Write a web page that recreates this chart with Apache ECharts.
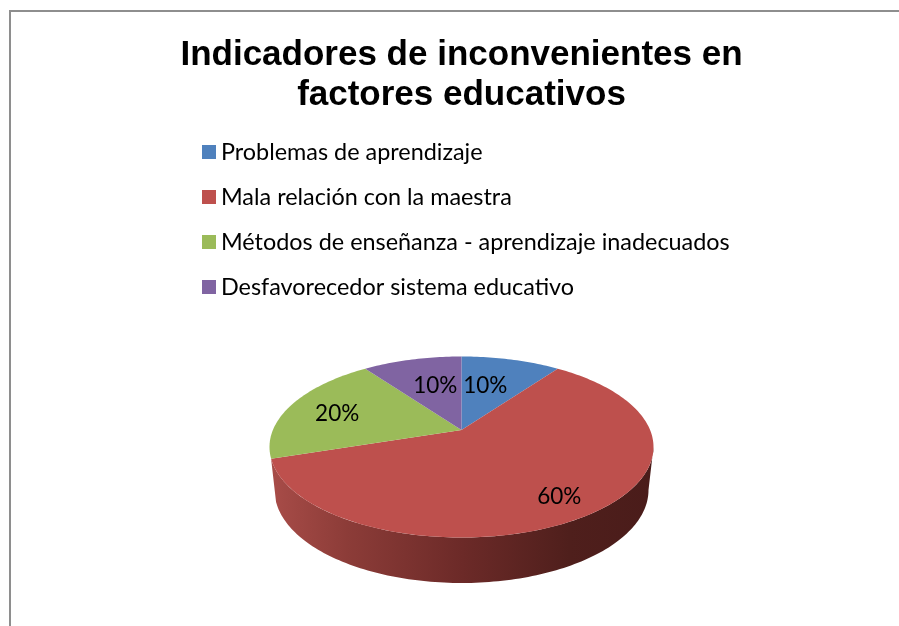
<!DOCTYPE html>
<html>
<head>
<meta charset="utf-8">
<style>html,body{margin:0;padding:0;background:#fff}#c{width:899px;height:626px}</style>
<script src="https://cdn.jsdelivr.net/npm/echarts@6/dist/echarts.min.js"></script>
</head>
<body>
<div id="c"></div>
<script>
const titleText = 'Indicadores de inconvenientes en\nfactores educativos';
const categories = ['Problemas de aprendizaje', 'Mala relación con la maestra', 'Métodos de enseñanza - aprendizaje inadecuados', 'Desfavorecedor sistema educativo'];
const values = [10, 60, 20, 10];
const colors = ['#4F81BD', '#BE504D', '#9BBB59', '#8064A2'];

// Layout of the tilted pie (perspective disc)
const TOP = { cx: 461.5, cy: 447, rx: 192, ry: 90.5 };
const BOTTOM = { cx: 461.5, cy: 490, rx: 187, ry: 93 };
const K = 0.188;                 // apparent shift of the pie centre towards the back
const labelR = [0.575, 0.81, 0.71, 0.575];
const labelShift = [-4, 2, -2.2, 2.5];
const LABEL_FONT = '22.5px Lato, "Open Sans", sans-serif';

const total = values.reduce((a, b) => a + b, 0);
const shares = values.map(v => v / total);
const starts = shares.map((_, i) => shares.slice(0, i).reduce((a, b) => a + b, 0) * 2 * Math.PI);
const biggest = values.indexOf(Math.max(...values));

function project(e, ang, r) {
  const x = r * Math.sin(ang), y = r * Math.cos(ang);
  const d = 1 + K * y;
  return [e.cx + e.rx * x * Math.sqrt(1 - K * K) / d, e.cy - e.ry * (y + K) / d];
}
function rim(e, a0, a1) {
  const n = Math.max(2, Math.ceil((a1 - a0) / 0.02)), pts = [];
  for (let i = 0; i <= n; i++) pts.push(project(e, a0 + (a1 - a0) * i / n, 1));
  return pts;
}
const wallFill = new echarts.graphic.LinearGradient(0, 0, 1, 0, [
  { offset: 0, color: '#A84C48' },
  { offset: 0.2, color: '#8C3C38' },
  { offset: 0.5, color: '#6C2A28' },
  { offset: 0.78, color: '#4F1F1C' },
  { offset: 1, color: '#4A1C1A' }
]);

function renderSlice(i) {
  return function () {
    const a0 = starts[i], a1 = a0 + shares[i] * 2 * Math.PI;
    const children = [];
    if (i === biggest) {
      const yz = Math.acos(-K); // angle at which the rim crosses the widest line
      const from = Math.max(a0, yz);
      const top = rim(TOP, from, a1), bot = rim(BOTTOM, from, a1).reverse();
      children.push({ type: 'polygon', shape: { points: top.concat(bot) }, style: { fill: wallFill } });
    }
    const pts = [project(TOP, 0, 0)].concat(rim(TOP, a0, a1));
    children.push({ type: 'polygon', shape: { points: pts }, style: { fill: colors[i] } });
    const mid = (a0 + a1) / 2 + labelShift[i] * Math.PI / 180;
    const p = project(TOP, mid, labelR[i]);
    children.push({
      type: 'text', z2: 10,
      style: { x: p[0], y: p[1], text: Math.round(shares[i] * 100) + '%', fill: '#000', font: LABEL_FONT, align: 'center', verticalAlign: 'middle' }
    });
    return { type: 'group', children };
  };
}

const chart = echarts.init(document.getElementById('c'), null, { renderer: 'canvas' });
chart.setOption({
  animation: false,
  backgroundColor: '#fff',
  title: {
    text: titleText, left: 456.5, top: 30, textAlign: 'center',
    textStyle: { fontFamily: '"Liberation Sans", Arial, sans-serif', fontWeight: 'bold', fontSize: 35, lineHeight: 40, color: '#000' }
  },
  legend: {
    orient: 'vertical', left: 202, top: 140, padding: 0, itemGap: 21,
    itemWidth: 14, itemHeight: 14, icon: 'rect', selectedMode: false,
    data: categories,
    textStyle: { fontFamily: 'Lato, "Open Sans", sans-serif', fontSize: 23.4, lineHeight: 24, color: '#000' }
  },
  graphic: [{
    type: 'polyline', silent: true,
    shape: { points: [[10, 626], [10, 11], [899, 11]] },
    style: { stroke: '#8E8E8E', lineWidth: 2, fill: null }
  }],
  series: categories.map((name, i) => ({
    type: 'custom', name, coordinateSystem: 'none',
    itemStyle: { color: colors[i] },
    renderItem: renderSlice(i),
    data: [values[i]]
  }))
});
</script>
</body>
</html>
